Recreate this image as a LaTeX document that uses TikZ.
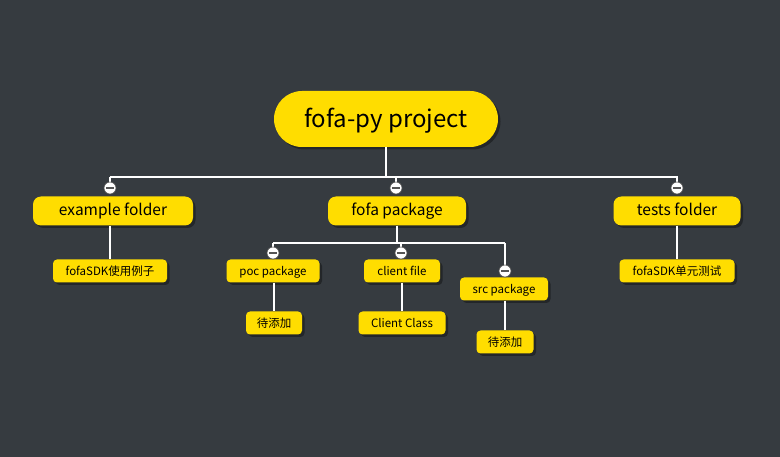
\documentclass[tikz,border=0pt]{standalone}
\usepackage{fontspec}
\setmainfont{Noto Sans CJK SC}
\usetikzlibrary{shadows}
\definecolor{bg}{HTML}{363B40}
\definecolor{topicyellow}{HTML}{FFDD00}
\definecolor{minusgray}{HTML}{555555}
\tikzset{
  topic/.style={fill=topicyellow, text=black, inner sep=0pt, align=center,
    drop shadow={shadow xshift=2.5pt, shadow yshift=-2.5pt, fill=black, opacity=0.35}},
  roottopic/.style={topic, minimum width=224pt, minimum height=56pt, rounded corners=28pt,
    font=\fontsize{24}{28}\selectfont, text height=20pt, text depth=2pt},
  maintopic/.style={topic, minimum height=29pt, rounded corners=8pt,
    font=\fontsize{15.5}{18}\selectfont, text height=12pt, text depth=2pt},
  subtopic/.style={topic, minimum height=23pt, rounded corners=4pt,
    font=\fontsize{11.5}{14}\selectfont, text height=10pt, text depth=1.5pt},
  link/.style={draw=white, line width=2pt},
  sublink/.style={draw=white, line width=1.6pt},
  collapser/.style={circle, draw=minusgray, line width=0.6pt, fill=white, minimum size=12pt, inner sep=0pt,
    path picture={\draw[minusgray, line width=1.3pt] ([xshift=-4pt]path picture bounding box.center) -- ([xshift=4pt]path picture bounding box.center);}},
}
\begin{document}
\begin{tikzpicture}[x=1pt, y=-1pt]
\fill[bg] (0,0) rectangle (780,457);
\useasboundingbox (0,0) rectangle (780,457);

% coordinates for connectors
\coordinate (bus1) at (386,177);
\coordinate (busL) at (110,177);
\coordinate (busR) at (678,177);
\coordinate (bus2) at (397,243);
\coordinate (bus2L) at (273,243);
\coordinate (bus2R) at (505,243);

% root
\node[roottopic] (root) at (386,119) {fofa-py project};

% level 1
\node[maintopic, minimum width=160pt] (ex) at (113,211) {example folder};
\node[maintopic, minimum width=138pt] (fp) at (397,211) {fofa package};
\node[maintopic, minimum width=127pt] (tf) at (677,211) {tests folder};

% level 2
\node[subtopic, minimum width=114pt] (exsub) at (110,271) {fofaSDK使用例子};
\node[subtopic, minimum width=93pt] (poc) at (273,271) {poc package};
\node[subtopic, minimum width=76pt] (cf) at (402,271) {client file};
\node[subtopic, minimum width=88pt] (src) at (504,289) {src package};
\node[subtopic, minimum width=115pt] (tfsub) at (677,271) {fofaSDK单元测试};

% level 3
\node[subtopic, minimum width=56pt] (pocsub) at (274,323) {待添加};
\node[subtopic, minimum width=87pt] (cfsub) at (402,323) {Client Class};
\node[subtopic, minimum width=57pt] (srcsub) at (505,342) {待添加};

% collapse buttons (positions)
\coordinate (c1) at (110,188);
\coordinate (c2) at (396,188);
\coordinate (c3) at (677,188);
\coordinate (c4) at (273,253);
\coordinate (c5) at (401,253);
\coordinate (c6) at (505,271);

% connectors
\draw[link] (root.south) -- (bus1);
\draw[link] (busL) -- (busR);
\draw[link] (busL) -- (c1);
\draw[link] (c2 |- bus1) -- (c2);
\draw[link] (c3 |- bus1) -- (c3);
\draw[sublink] (ex.south -| exsub.north) -- (exsub.north);
\draw[sublink] (tf.south) -- (tfsub.north);
\draw[sublink] (fp.south) -- (bus2);
\draw[sublink] (bus2L) -- (bus2R);
\draw[sublink] (bus2L) -- (poc.north);
\draw[sublink] (c5 |- bus2) -- (c5);
\draw[sublink] (bus2R) -- (src.north -| bus2R);
\draw[sublink] (poc.south -| pocsub.north) -- (pocsub.north);
\draw[sublink] (cf.south) -- (cfsub.north);
\draw[sublink] (src.south -| srcsub.north) -- (srcsub.north);

% collapse buttons
\foreach \c in {c1,c2,c3,c4,c5,c6}
  \node[collapser] (b\c) at (\c) {};
\end{tikzpicture}
\end{document}
